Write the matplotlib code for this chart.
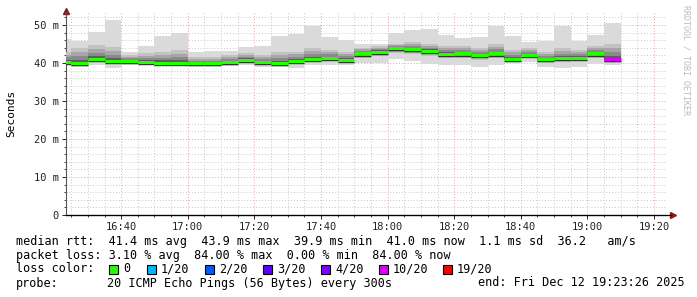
import matplotlib
matplotlib.use("Agg")
import matplotlib.pyplot as plt
import matplotlib.dates as mdates
from matplotlib.patches import Rectangle
from matplotlib.ticker import MultipleLocator, FuncFormatter
import pandas as pd

plt.rcParams["font.family"] = ["DejaVu Sans Mono"]

# 5-minute smokeping rounds, 16:20 .. 19:05
rtt_max = [46.3, 45.8, 48.1, 51.3, 42.8, 44.5, 47.1, 47.8, 42.8, 43.2,
           43.2, 44.1, 44.5, 47.1, 47.6, 49.6, 46.7, 46.1, 44.9, 44.9,
           47.8, 48.7, 48.9, 47.4, 46.5, 46.9, 49.8, 47.1, 45.4, 45.8,
           49.6, 45.8, 47.4, 50.4]
rtt_p75 = [43.0, 43.9, 44.7, 44.3, 42.0, 42.5, 43.0, 43.5, 41.5, 41.5,
           42.0, 42.5, 42.0, 43.0, 43.0, 44.0, 43.5, 43.0, 44.0, 44.5,
           45.0, 45.5, 45.0, 44.5, 44.5, 44.0, 45.0, 43.5, 44.0, 43.0,
           44.0, 43.5, 44.5, 45.0]
rtt_median = [40.3, 40.1, 41.0, 40.5, 40.5, 40.3, 40.1, 40.1, 39.9, 39.9,
              40.3, 40.9, 40.3, 39.9, 40.5, 41.0, 41.2, 40.8, 42.5, 43.0,
              43.9, 43.7, 43.2, 42.4, 42.5, 42.1, 42.5, 41.1, 42.1, 41.0,
              41.2, 41.4, 42.5, 41.0]
rtt_p25 = [39.8, 39.6, 40.2, 39.7, 39.9, 39.8, 39.6, 39.6, 39.4, 39.4,
           39.7, 40.1, 39.6, 39.4, 39.6, 40.3, 40.5, 40.1, 41.3, 41.8,
           42.6, 42.3, 41.9, 41.3, 41.4, 40.8, 41.3, 40.6, 41.3, 40.1,
           40.2, 40.5, 41.3, 40.0]
rtt_min = [39.5, 39.0, 39.5, 38.8, 39.5, 39.5, 39.2, 39.2, 39.0, 39.0,
           39.3, 39.5, 39.0, 39.0, 38.6, 39.5, 39.5, 39.5, 39.9, 40.1,
           41.0, 40.5, 39.6, 39.5, 39.5, 39.0, 39.5, 39.9, 40.3, 39.0,
           38.6, 39.0, 39.6, 39.5]
loss = [0] * 33 + [10]

loss_levels = [0, 1, 2, 3, 4, 10, 19]
loss_labels = ["0", "1/20", "2/20", "3/20", "4/20", "10/20", "19/20"]
loss_colors = ["#26ff00", "#00b8ff", "#0059ff", "#5e00ff", "#7e00ff", "#dd00ff", "#ff0000"]

t = pd.date_range("2025-12-12 16:20", periods=len(rtt_median), freq="5min")
step = 5 / 1440

W, H = 697, 297
fig = plt.figure(figsize=(W / 100, H / 100), dpi=100)
ax = fig.add_axes([66 / W, (H - 215) / H, (665.5 - 66) / W, (215 - 12) / H])

xs = mdates.date2num(t)
lo = [a - b for a, b in zip(rtt_median, rtt_p25)]
hi = [a - b for a, b in zip(rtt_p75, rtt_median)]

# smoke: light outer band, then darker shades towards the median
ax.bar(xs, [a - b for a, b in zip(rtt_max, rtt_min)], bottom=rtt_min, width=step,
       align="edge", color="#dadada", lw=0, zorder=2)
for f, c in [(0.0, "#c2c2c2"), (0.3, "#a6a6a6"), (0.55, "#8a8a8a"), (0.8, "#5e5e5e")]:
    b = [m - (1 - f) * l for m, l in zip(rtt_median, lo)]
    top = [m + (1 - f) * h for m, h in zip(rtt_median, hi)]
    ax.bar(xs, [a - c2 for a, c2 in zip(top, b)], bottom=b, width=step,
           align="edge", color=c, lw=0, zorder=3)

# median lines coloured by loss
for x, m, n in zip(xs, rtt_median, loss):
    col = [c for lv, c in zip(loss_levels, loss_colors) if n >= lv][-1]
    ax.hlines(m - 0.55, x, x + step, color="#333333", lw=1.0, zorder=5)
    ax.hlines(m, x, x + step, color=col, lw=2.2, zorder=6)

ax.set_xlim(pd.Timestamp("2025-12-12 16:23:26"), pd.Timestamp("2025-12-12 19:23:26"))
ax.set_ylim(0, 53.4)

ax.xaxis.set_major_locator(mdates.MinuteLocator(byminute=[0, 20, 40]))
ax.xaxis.set_minor_locator(mdates.MinuteLocator(byminute=range(0, 60, 5)))
ax.xaxis.set_major_formatter(mdates.DateFormatter("%H:%M"))
ax.yaxis.set_major_locator(MultipleLocator(10))
ax.yaxis.set_minor_locator(MultipleLocator(2))
ax.yaxis.set_major_formatter(FuncFormatter(lambda v, p: "0" if v == 0 else f"{v:.0f} m"))

ax.grid(which="minor", color="#c8c8c8", ls=(0, (1, 2)), lw=0.7, zorder=1)
ax.grid(which="major", color="#f0a0a0", ls=(0, (1, 2)), lw=0.7, zorder=1)
ax.tick_params(which="both", labelsize=7.5, colors="#222222", pad=2)
ax.tick_params(which="major", length=3, width=0.7)
ax.tick_params(which="minor", length=1.5, width=0.6)

for s in ["top", "right"]:
    ax.spines[s].set_visible(False)
ax.spines["left"].set_color("#555555")
ax.spines["bottom"].set_color("black")
ax.plot([0, 1.01], [0, 0], transform=ax.transAxes, color="black", lw=0.9, clip_on=False, zorder=7)
ax.plot(1.012, 0, marker=">", ms=4, color="#8b1a1a", transform=ax.transAxes, clip_on=False)
ax.plot(0, 1.005, marker="^", ms=4, color="#8b1a1a", transform=ax.transAxes, clip_on=False)

fig.text(11 / W, 1 - 113 / H, "Seconds", rotation=90, ha="center", va="center", fontsize=8)
fig.text(686 / W, 1 - 60 / H, "RRDTOOL / TOBI OETIKER", rotation=-90, ha="center",
         va="center", fontsize=6, color="#bbbbbb")

fs = 8.5
fig.text(16 / W, 1 - 241 / H,
         "median rtt:  41.4 ms avg  43.9 ms max  39.9 ms min  41.0 ms now  1.1 ms sd  36.2   am/s",
         va="center", fontsize=fs)
fig.text(16 / W, 1 - 255 / H,
         "packet loss: 3.10 % avg  84.00 % max  0.00 % min  84.00 % now", va="center", fontsize=fs)
fig.text(16 / W, 1 - 269 / H, "loss color:", va="center", fontsize=fs)
sq_x = [109, 147, 205, 263, 321, 379, 443]
for x, lab, c in zip(sq_x, loss_labels, loss_colors):
    fig.patches.append(Rectangle((x / W, 1 - 274 / H), 9 / W, 9 / H, transform=fig.transFigure,
                                 fc=c, ec="black", lw=0.8))
    fig.text((x + 14) / W, 1 - 269 / H, lab, va="center", fontsize=fs)
fig.text(16 / W, 1 - 283 / H, "probe:", va="center", fontsize=fs)
fig.text(107 / W, 1 - 283 / H, "20 ICMP Echo Pings (56 Bytes) every 300s", va="center", fontsize=fs)
fig.text(478 / W, 1 - 283 / H, "end: Fri Dec 12 19:23:26 2025", va="center", fontsize=fs)

fig.savefig("out.png", dpi=100, facecolor="white")
